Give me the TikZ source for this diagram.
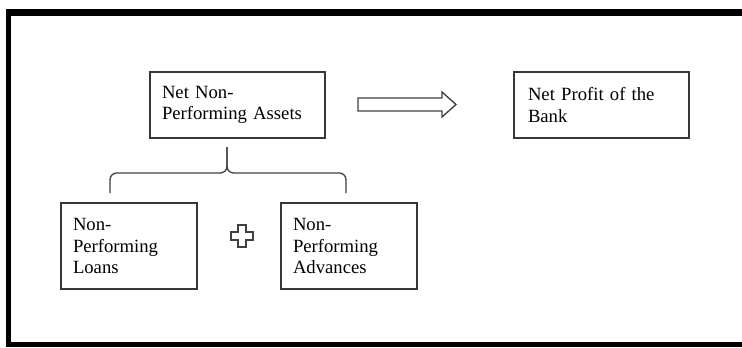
\documentclass[tikz,border=0pt]{standalone}
\usepackage{fontspec}
\setmainfont{Liberation Serif}
\begin{document}
\begin{tikzpicture}[x=0.75pt,y=-0.75pt,
  box/.style={draw=black!78, line width=1pt, fill=white, align=left,
    inner ysep=0pt, font=\fontsize{14}{15.8}\selectfont, anchor=center},
  topbox/.style={box, inner xsep=9pt, text width=113.25pt, minimum height=49.5pt},
  profitbox/.style={box, inner xsep=10.5pt, text width=110.25pt, minimum height=49.5pt},
  lowbox/.style={box, inner xsep=9pt, text width=84pt, minimum height=64.5pt},
  shapeline/.style={draw=black!75, line width=1pt, fill=white},
  frame/.style={fill=black}]
\useasboundingbox (0,0) rectangle (742,347);
% frame
\fill[frame] (6,9) rectangle (742,16);
\fill[frame] (6,9) rectangle (11,347);
\fill[frame] (6,342) rectangle (742,347);
% boxes
\node[topbox] (nnpa) at (237.5,105) {Net Non-\\Performing Assets};
\node[profitbox] (profit) at (601.5,105) {Net Profit of the\\Bank};
\node[lowbox] (loans) at (129,246) {Non-\\Performing\\Loans};
\node[lowbox] (adv) at (349,246) {Non-\\Performing\\Advances};
% block arrow
\draw[shapeline] (358,98) -- (442,98) -- (442,92) -- (456,104.5) -- (442,117) -- (442,111) -- (358,111) -- cycle;
% brace
\coordinate (tip) at (227,147);
\coordinate (bl) at (110,193);
\coordinate (br) at (346,193);
\draw[draw=black!75, line width=1pt, rounded corners=5pt] (bl) -- (110,173) -- (227,173) -- (tip);
\draw[draw=black!75, line width=1pt, rounded corners=5pt] (br) -- (346,173) -- (227,173) -- (tip);
% plus
\draw[shapeline] (238,225) -- (246,225) -- (246,232) -- (253,232) -- (253,240) -- (246,240) -- (246,247) -- (238,247) -- (238,240) -- (231,240) -- (231,232) -- (238,232) -- cycle;
\end{tikzpicture}
\end{document}
